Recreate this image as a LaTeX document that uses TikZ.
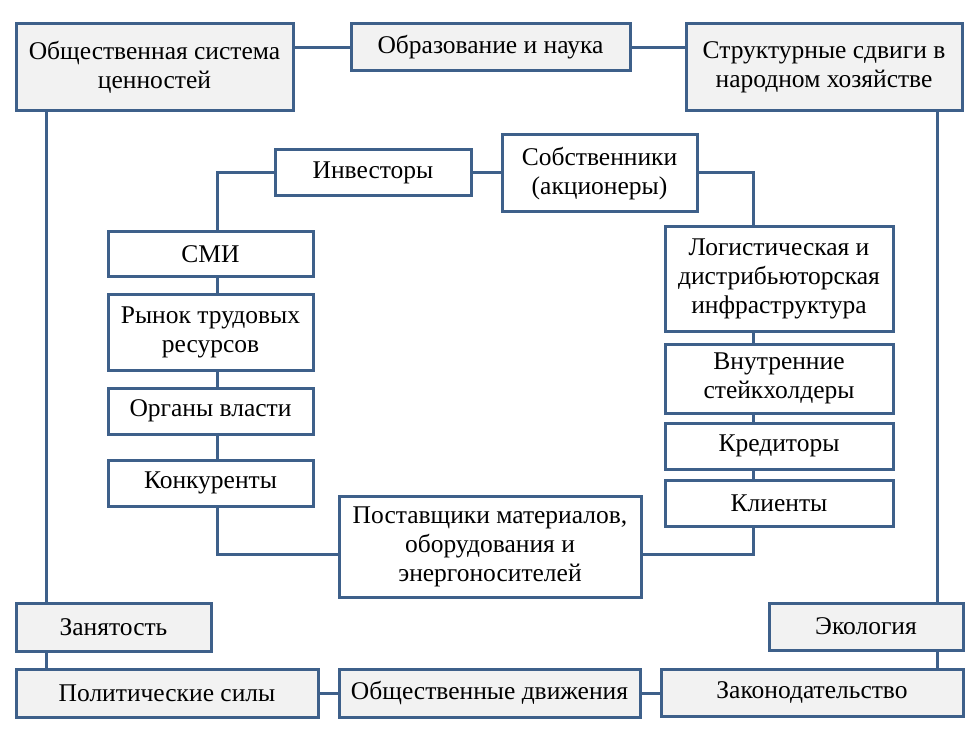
\documentclass[tikz,border=0pt]{standalone}
\usepackage{fontspec}
\setmainfont{Liberation Serif}
\definecolor{bord}{RGB}{62,96,138}
\definecolor{outfill}{RGB}{242,242,242}
\begin{document}
\begin{tikzpicture}[x=1pt,y=-1pt,
  box/.style={draw=bord,line width=3pt,align=center,inner sep=0pt,font=\fontsize{25.5}{29}\selectfont},
  outer/.style={box,fill=outfill},
  inner/.style={box,fill=white},
  conn/.style={draw=bord,line width=3pt}]
\useasboundingbox (0,0) rectangle (977,735);
\fill[white] (0,0) rectangle (977,735);
\newcommand{\bx}[7]{%
  \node[#1,minimum width={#5-#3},minimum height={#6-#4}] (#2) at ({(#3+#5)/2},{(#4+#6)/2}) {#7};}
% coordinates for connectors
\coordinate (L1) at (46,111);
\coordinate (L4) at (46,669);
\coordinate (R1) at (937,111);
\coordinate (R4) at (937,669);
\coordinate (a1) at (217,173);
\coordinate (a2) at (217,554);
\coordinate (b1) at (753,173);
\coordinate (b2) at (753,554);
\coordinate (t1) at (150,48);
\coordinate (t2) at (820,48);
\coordinate (u1) at (160,693);
\coordinate (u2) at (810,693);
\coordinate (m1) at (490,173);
\coordinate (m2) at (490,554);
% connectors
\draw[conn] (L1) -- (L4);
\draw[conn] (R1) -- (R4);
\draw[conn] (t1) -- (t2);
\draw[conn] (u1) -- (u2);
\draw[conn] (m1) -- (a1) -- (a2) -- (m2) -- (b2) -- (b1) -- cycle;
% nodes
\bx{outer}{val}{16}{24}{293}{111}{Общественная система\\ценностей}
\bx{outer}{edu}{351}{24}{630}{71}{Образование и наука}
\bx{outer}{str}{686}{24}{962}{111}{Структурные сдвиги в\\народном хозяйстве}
\bx{inner}{inv}{275}{150}{471}{196}{Инвесторы}
\bx{inner}{own}{502}{135}{697}{212}{Собственники\\(акционеры)}
\bx{inner}{smi}{108}{232}{313}{277}{СМИ}
\bx{inner}{ryn}{108}{295}{313}{370}{Рынок трудовых\\ресурсов}
\bx{inner}{org}{108}{388}{313}{434}{Органы власти}
\bx{inner}{kon}{108}{460}{313}{506}{Конкуренты}
\bx{inner}{pos}{339}{496}{641}{597}{Поставщики материалов,\\оборудования и\\энергоносителей}
\bx{inner}{log}{665}{227}{893}{331}{Логистическая и\\дистрибьюторская\\инфраструктура}
\bx{inner}{vnu}{665}{344}{893}{413}{Внутренние\\стейкхолдеры}
\bx{inner}{kre}{665}{423}{893}{469}{Кредиторы}
\bx{inner}{kli}{665}{480}{893}{526}{Клиенты}
\bx{outer}{zan}{16}{603}{211}{651}{Занятость}
\bx{outer}{eco}{769}{603}{963}{650}{Экология}
\bx{outer}{pol}{16}{669}{318}{717}{Политические силы}
\bx{outer}{obd}{339}{669}{640}{717}{Общественные движения}
\bx{outer}{zak}{661}{669}{963}{716}{Законодательство}
\end{tikzpicture}
\end{document}
